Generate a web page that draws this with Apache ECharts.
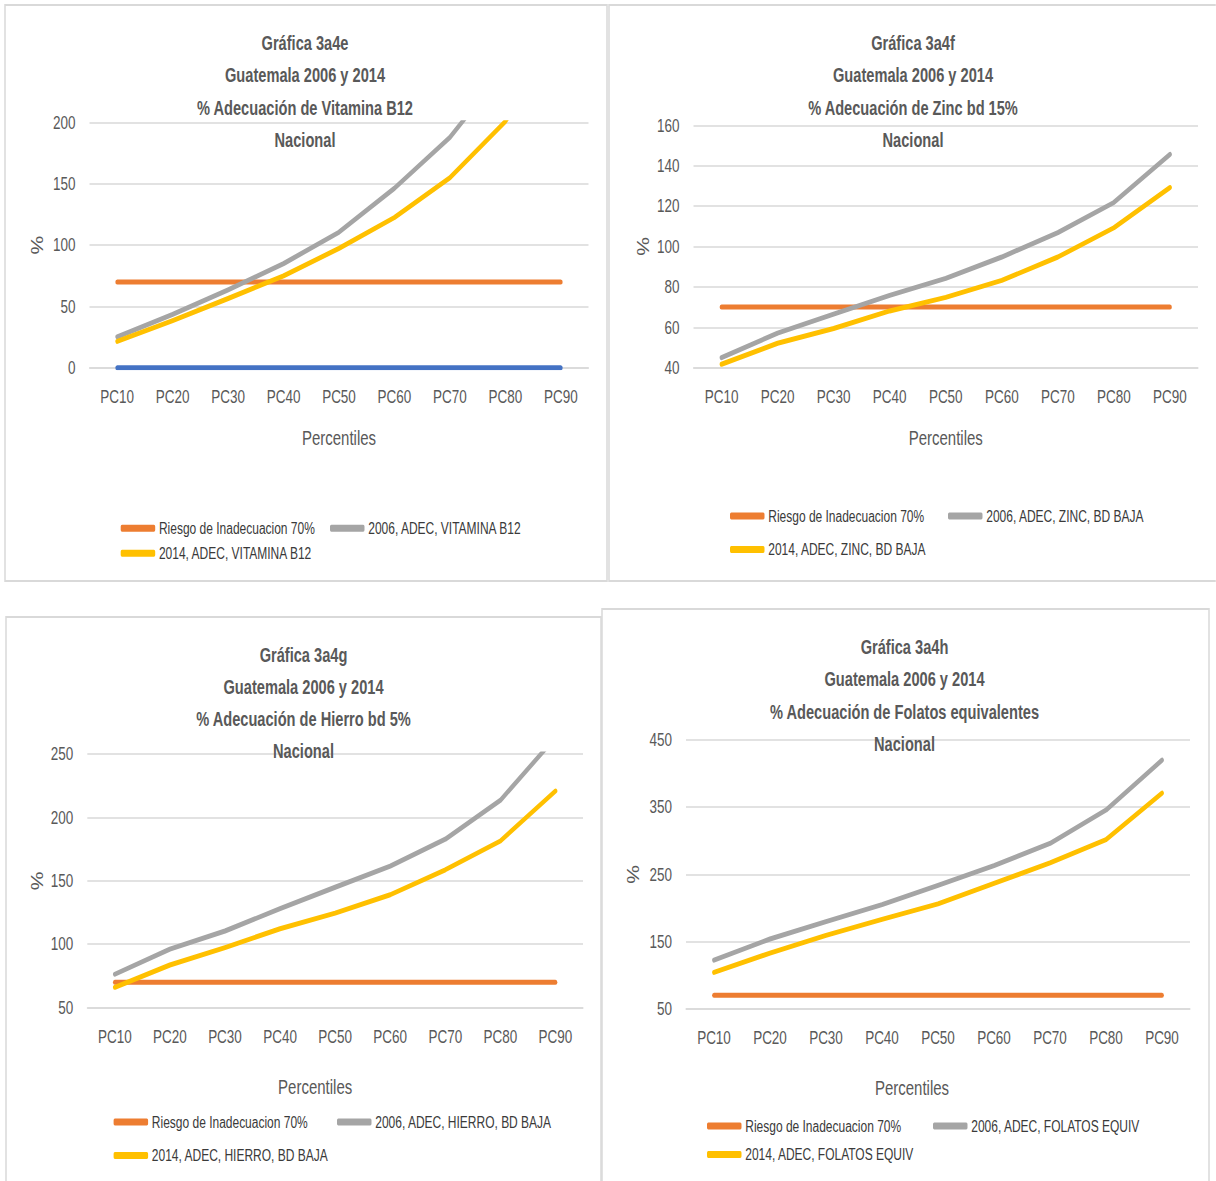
<!DOCTYPE html>
<html>
<head>
<meta charset="utf-8">
<title>Guatemala 2006 y 2014 - % Adecuación</title>
<script src="https://cdn.jsdelivr.net/npm/echarts@6/dist/echarts.min.js"></script>
<style>
  html, body { margin: 0; padding: 0; background: #ffffff; overflow: hidden; }
  #frame { width: 1216px; height: 1181px; overflow: hidden; position: relative; }
  #chart { position: absolute; left: 0; top: 0; transform-origin: 0 0; }
</style>
</head>
<body>
<div id="frame"><div id="chart"></div></div>
<script>
// Percentile categories shared by all four charts
const categories = ['PC10', 'PC20', 'PC30', 'PC40', 'PC50', 'PC60', 'PC70', 'PC80', 'PC90'];

// Inadequacy-risk reference (70 %) drawn in every chart
const riesgo70 = [70, 70, 70, 70, 70, 70, 70, 70, 70];

// Gráfica 3a4e - Vitamina B12
const b12Base = [0, 0, 0, 0, 0, 0, 0, 0, 0];
const b12_2006 = [25.2, 43.6, 63.6, 85, 110.6, 146.5, 188, 245, 330];
const b12_2014 = [21.5, 38.4, 56.5, 75, 97.4, 122.6, 155, 201, 270];

// Gráfica 3a4f - Zinc bd 15%
const zinc_2006 = [45, 57.1, 66.5, 75.8, 84.2, 94.8, 106.9, 121.8, 145.6];
const zinc_2014 = [41.7, 52.1, 59.4, 68.1, 74.8, 83.2, 94.8, 109.3, 129.2];

// Gráfica 3a4g - Hierro bd 5%
const hierro_2006 = [76.3, 96.1, 110.4, 128, 144.9, 161.5, 182.8, 213.5, 263];
const hierro_2014 = [66, 83.6, 97.3, 112.2, 124.5, 139, 158.7, 181.4, 220.8];

// Gráfica 3a4h - Folatos equivalentes
const folatos_2006 = [122.3, 153.8, 179.7, 205, 233.7, 263, 296, 345.7, 420];
const folatos_2014 = [104, 132.8, 159.2, 183, 206, 236.5, 267, 301.6, 371];

// Y axis ranges
const yB12 = { min: 0, max: 200, interval: 50 };
const yZinc = { min: 40, max: 160, interval: 20 };
const yHierro = { min: 50, max: 250, interval: 50 };
const yFolatos = { min: 50, max: 450, interval: 100 };

// Titles and legend names
const subtitle = 'Guatemala 2006 y 2014';
const riesgoName = 'Riesgo de Inadecuacion 70%';
const panels = [
  {
    title: ['Gráfica 3a4e', subtitle, '% Adecuación de Vitamina B12', 'Nacional'],
    names: ['2006, ADEC, VITAMINA B12', '2014, ADEC, VITAMINA B12'],
    values: [b12_2006, b12_2014], base: b12Base, y: yB12,
    box: { x: 5, y: 5, w: 602, h: 576 },
    grid: { left: 89.5, right: 588.5, top: 122.7, bottom: 367.7 },
    titleX: 305, titleY: 43.3, titleLH: 32.4,
    yNameX: 37.5, xNameY: 437.8, xNameShift: 0,
    legend: [[120.7, 528.3], [330, 528.3], [120.7, 553.3]]
  },
  {
    title: ['Gráfica 3a4f', subtitle, '% Adecuación de Zinc bd 15%', 'Nacional'],
    names: ['2006, ADEC, ZINC, BD BAJA', '2014, ADEC, ZINC, BD BAJA'],
    values: [zinc_2006, zinc_2014], y: yZinc,
    box: { x: 609, y: 5, w: 620, h: 576 },
    grid: { left: 693.5, right: 1198, top: 125.3, bottom: 367.7 },
    titleX: 913, titleY: 43.3, titleLH: 32.4,
    yNameX: 643, xNameY: 437.8, xNameShift: 0,
    legend: [[730, 516], [948, 516], [730, 549.5]]
  },
  {
    title: ['Gráfica 3a4g', subtitle, '% Adecuación de Hierro bd 5%', 'Nacional'],
    names: ['2006, ADEC, HIERRO, BD BAJA', '2014, ADEC, HIERRO, BD BAJA'],
    values: [hierro_2006, hierro_2014], y: yHierro,
    box: { x: 6, y: 617, w: 595, h: 620 },
    grid: { left: 87.3, right: 583, top: 754, bottom: 1007.6 },
    titleX: 303.5, titleY: 655.6, titleLH: 31.8,
    yNameX: 37, xNameY: 1087, xNameShift: -20,
    legend: [[113.6, 1122], [337, 1122], [113.6, 1155.6]]
  },
  {
    title: ['Gráfica 3a4h', subtitle, '% Adecuación de Folatos equivalentes', 'Nacional'],
    names: ['2006, ADEC, FOLATOS EQUIV', '2014, ADEC, FOLATOS EQUIV'],
    values: [folatos_2006, folatos_2014], y: yFolatos,
    box: { x: 602, y: 609, w: 607, h: 620 },
    grid: { left: 686, right: 1190, top: 740, bottom: 1008.7 },
    titleX: 904.5, titleY: 647.4, titleLH: 32.3,
    yNameX: 633.4, xNameY: 1088, xNameShift: -26,
    legend: [[707, 1126], [933, 1126], [707, 1154.4]]
  }
];

// The charts use a condensed type face: everything is laid out on a wider
// canvas and then squeezed horizontally by SQUEEZE.
const SQUEEZE = 0.75;
const W = 1216, H = 1181;
const X = function (v) { return v / SQUEEZE; };

const FONT = "'Liberation Sans', Arial, sans-serif";
const TEXT = '#595959';
const GRIDLINE = '#d9d9d9';
const COLORS = { base: '#4472C4', riesgo: '#ED7D31', y2006: '#A5A5A5', y2014: '#FFC000' };

const option = {
  backgroundColor: '#ffffff',
  animation: false,
  textStyle: { fontFamily: FONT },
  title: [], grid: [], xAxis: [], yAxis: [], legend: [], series: [],
  graphic: []
};

function lineSeries(name, data, color, idx, z) {
  return {
    type: 'line', name: name, data: data,
    xAxisIndex: idx, yAxisIndex: idx,
    symbol: 'none', smooth: false, clip: true, z: z,
    itemStyle: { color: color },
    lineStyle: { color: color, width: 5, cap: 'round', join: 'round' },
    emphasis: { disabled: true }
  };
}

function legendItem(name, pos) {
  return {
    data: [name],
    left: X(pos[0]), top: pos[1] - 9,
    padding: 0, itemGap: 0,
    icon: 'roundRect', itemWidth: 46, itemHeight: 7,
    selectedMode: false,
    textStyle: { fontFamily: FONT, fontSize: 16, lineHeight: 18, color: '#3a3a3a' }
  };
}

panels.forEach(function (p, i) {
  const g = p.grid;
  option.graphic.push({
    type: 'rect', silent: true, z: -10,
    shape: { x: X(p.box.x), y: p.box.y, width: X(p.box.w), height: p.box.h },
    style: { fill: '#ffffff', stroke: '#d9d9d9', lineWidth: 2 }
  });
  option.title.push({
    text: p.title.join('\n'),
    left: X(p.titleX), top: p.titleY - p.titleLH / 2,
    textAlign: 'center', padding: 0, z: 10,
    textStyle: { fontFamily: FONT, fontSize: 19.5, fontWeight: 'bold', color: TEXT, lineHeight: p.titleLH }
  });
  option.grid.push({
    left: X(g.left), top: g.top,
    width: X(g.right - g.left), height: g.bottom - g.top,
    containLabel: false
  });
  option.xAxis.push({
    type: 'category', gridIndex: i, data: categories, boundaryGap: true,
    name: 'Percentiles', nameLocation: 'middle', nameGap: p.xNameY - g.bottom - 10,
    nameTextStyle: {
      fontFamily: FONT, fontSize: 20, color: TEXT,
      padding: p.xNameShift < 0 ? [0, X(-2 * p.xNameShift), 0, 0] : 0
    },
    axisLine: { show: true, lineStyle: { color: GRIDLINE, width: 1.5 } },
    axisTick: { show: false },
    axisLabel: { fontFamily: FONT, fontSize: 18, color: TEXT, margin: 20 },
    splitLine: { show: false }
  });
  option.yAxis.push({
    type: 'value', gridIndex: i,
    min: p.y.min, max: p.y.max, interval: p.y.interval,
    name: '%', nameLocation: 'middle', nameRotate: 90,
    nameGap: X(g.left - p.yNameX) - 10.5,
    nameTextStyle: { fontFamily: FONT, fontSize: 21, lineHeight: 21, color: TEXT },
    axisLine: { show: false }, axisTick: { show: false },
    axisLabel: { fontFamily: FONT, fontSize: 18, color: TEXT, margin: X(14) },
    splitLine: { show: true, lineStyle: { color: GRIDLINE, width: 1.5 } }
  });
  if (p.base) {
    option.series.push(lineSeries('Base', p.base, COLORS.base, i, 2));
  }
  option.series.push(lineSeries(riesgoName, riesgo70, COLORS.riesgo, i, 3));
  option.series.push(lineSeries(p.names[0], p.values[0], COLORS.y2006, i, 4));
  option.series.push(lineSeries(p.names[1], p.values[1], COLORS.y2014, i, 5));
  option.legend.push(legendItem(riesgoName, p.legend[0]));
  option.legend.push(legendItem(p.names[0], p.legend[1]));
  option.legend.push(legendItem(p.names[1], p.legend[2]));
});

const el = document.getElementById('chart');
el.style.width = X(W) + 'px';
el.style.height = H + 'px';
el.style.transform = 'scaleX(' + SQUEEZE + ')';
const chart = echarts.init(el, null, { renderer: 'svg', width: X(W), height: H });
chart.setOption(option);
</script>
</body>
</html>
